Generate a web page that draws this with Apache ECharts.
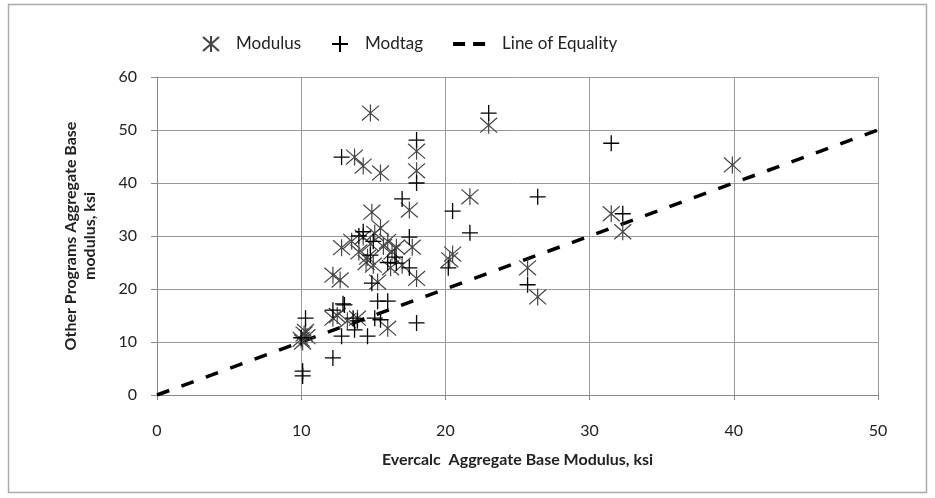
<!DOCTYPE html>
<html>
<head>
<meta charset="utf-8">
<script src="https://cdn.jsdelivr.net/npm/echarts@6/dist/echarts.min.js"></script>
<style>
  html, body { margin: 0; padding: 0; background: #fff; }
  #chart { width: 935px; height: 498px; }
</style>
</head>
<body>
<div id="chart"></div>
<script>
// Evercalc modulus (x) vs other programs (y), ksi
const modulusPoints = [
  [10.0, 10.5], [10.2, 11.5], [10.3, 12.0], [10.1, 10.0], [10.4, 11.0],
  [12.2, 14.5], [12.5, 15.0], [12.2, 22.6], [12.7, 21.7], [12.8, 27.8], [13.2, 14.0],
  [13.7, 44.9], [14.3, 43.2], [15.5, 41.9], [14.8, 53.2], [14.9, 34.5],
  [13.5, 29.0], [14.0, 27.0], [14.3, 29.8], [14.6, 26.0], [14.8, 28.5], [15.1, 30.5],
  [15.5, 31.5], [15.7, 28.0], [16.0, 29.0], [16.3, 27.0], [16.6, 27.9], [17.0, 24.5],
  [16.2, 24.0], [17.7, 27.9], [17.5, 34.9], [18.0, 46.0], [18.0, 42.3], [18.0, 22.0],
  [15.3, 21.3], [16.0, 12.6], [14.5, 25.0], [15.0, 24.5], [13.9, 14.5],
  [20.5, 26.6], [20.3, 25.5], [21.7, 37.4], [23.0, 50.9],
  [25.7, 24.0], [26.4, 18.5], [31.5, 34.2], [32.3, 30.8], [39.9, 43.4]
]
const modtagPoints = [
  [10.1, 4.5], [10.1, 3.6], [10.3, 14.5], [10.0, 10.8],
  [12.2, 7.0], [12.2, 16.0], [12.9, 17.2], [12.8, 11.1], [13.7, 12.3], [13.9, 14.0],
  [13.6, 14.5], [12.8, 44.9], [14.3, 30.8], [14.6, 11.1], [14.9, 21.1], [15.1, 14.5],
  [15.3, 17.7], [15.5, 14.2], [16.0, 17.7], [14.8, 26.4], [14.0, 30.0], [16.6, 24.9],
  [17.5, 24.0], [17.5, 29.8], [17.0, 37.0], [18.0, 48.1], [18.0, 40.0], [18.0, 13.6],
  [15.0, 29.0], [16.0, 25.0], [16.5, 26.0], [13.0, 17.0],
  [20.2, 24.0], [20.5, 34.7], [21.7, 30.6], [23.0, 53.2],
  [25.7, 20.8], [26.4, 37.4], [31.5, 47.5], [32.3, 34.2]
]
const equalityLine = [[0, 0], [50, 50]]

const asteriskPath = 'path://M0,1L16,15M0,15L16,1M8,0L8,16'
const plusPath = 'path://M0,8L16,8M8,0L8,16'
const dashIcon = 'path://M0,0H12V4H0ZM20,0H32V4H20Z'
const font = 'Lato, "Open Sans", sans-serif'

const chart = echarts.init(document.getElementById('chart'))
chart.setOption({
  animation: false,
  backgroundColor: '#fff',
  graphic: [{
    type: 'rect',
    shape: { x: 8.5, y: 4.5, width: 918, height: 488 },
    style: { fill: 'none', stroke: '#aaa', lineWidth: 1.5 },
    silent: true
  }],
  legend: {
    left: 197,
    top: 30,
    itemWidth: 32,
    itemHeight: 16,
    itemGap: 30,
    textStyle: { fontFamily: font, fontSize: 17, color: '#222', padding: [0, 0, 0, 4] },
    data: [
      { name: 'Modulus' },
      { name: 'Modtag' },
      {
        name: 'Line of Equality',
        icon: dashIcon,
        itemStyle: { color: '#000', borderWidth: 0 },
        textStyle: { padding: [0, 0, 0, 12] }
      }
    ]
  },
  grid: {
    left: 157,
    right: 57,
    top: 77,
    bottom: 103
  },
  xAxis: {
    type: 'value',
    min: 0,
    max: 50,
    interval: 10,
    name: 'Evercalc  Aggregate Base Modulus, ksi',
    nameLocation: 'middle',
    nameGap: 57,
    nameTextStyle: { fontFamily: font, fontSize: 16, fontWeight: 'bold', color: '#222' },
    axisLine: { lineStyle: { color: '#888' } },
    axisTick: { show: true, length: 5, lineStyle: { color: '#888' } },
    axisLabel: { margin: 28, fontFamily: font, fontSize: 16, color: '#222' },
    splitLine: { show: true, lineStyle: { color: '#999' } }
  },
  yAxis: {
    type: 'value',
    min: 0,
    max: 60,
    interval: 10,
    name: 'Other Programs Aggregate Base\nmodulus, ksi',
    nameLocation: 'middle',
    nameGap: 58,
    nameTextStyle: { fontFamily: font, fontSize: 16, fontWeight: 'bold', color: '#222', lineHeight: 19 },
    axisLine: { show: true, lineStyle: { color: '#888' } },
    axisTick: { show: true, length: 6, lineStyle: { color: '#888' } },
    axisLabel: { margin: 20, fontFamily: font, fontSize: 16, color: '#222' },
    splitLine: { show: true, lineStyle: { color: '#999' } }
  },
  series: [
    {
      name: 'Line of Equality',
      type: 'line',
      data: equalityLine,
      symbol: 'none',
      z: 1,
      lineStyle: { color: '#000', width: 3.5, type: [13, 13] },
      itemStyle: { color: '#000' }
    },
    {
      name: 'Modulus',
      type: 'scatter',
      data: modulusPoints,
      symbol: asteriskPath,
      symbolSize: 17,
      z: 3,
      itemStyle: { color: 'rgba(0,0,0,0)', borderColor: '#444', borderWidth: 1.2, opacity: 1 }
    },
    {
      name: 'Modtag',
      type: 'scatter',
      data: modtagPoints,
      symbol: plusPath,
      symbolSize: 16,
      z: 4,
      itemStyle: { color: 'rgba(0,0,0,0)', borderColor: '#000', borderWidth: 1.3, opacity: 1 }
    }
  ]
})
</script>
</body>
</html>
